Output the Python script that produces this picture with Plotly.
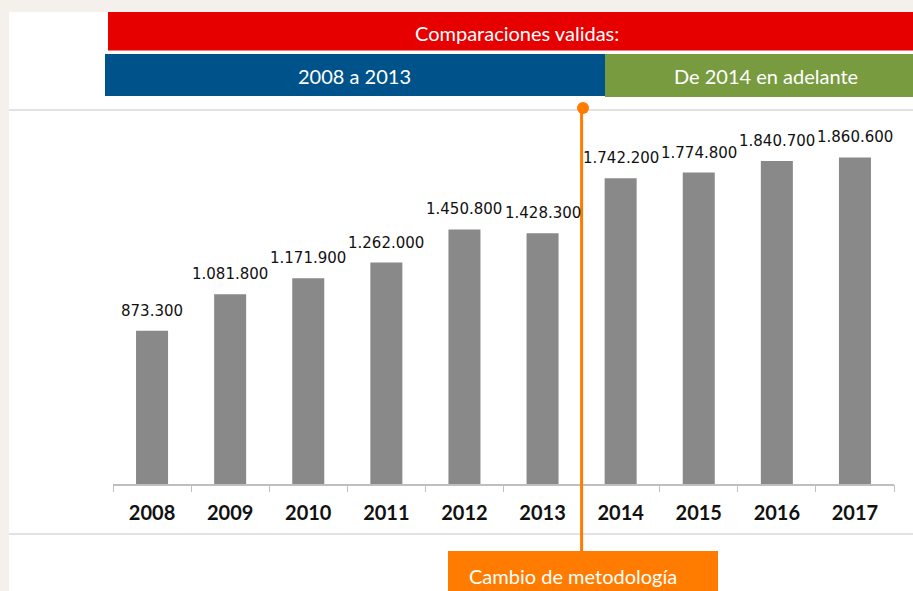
import plotly.graph_objects as go

# ---- data ----
years = ["2008", "2009", "2010", "2011", "2012", "2013", "2014", "2015", "2016", "2017"]
values = [873300, 1081800, 1171900, 1262000, 1450800, 1428300, 1742200, 1774800, 1840700, 1860600]
value_labels = ["873.300", "1.081.800", "1.171.900", "1.262.000", "1.450.800",
                "1.428.300", "1.742.200", "1.774.800", "1.840.700", "1.860.600"]
header_title = "Comparaciones validas:"
period_left = "2008 a 2013"
period_right = "De 2014 en adelante"
change_label = "Cambio de metodología"
change_position = 5.5  # boundary between 2013 and 2014 (category index)

# ---- layout geometry (pixels) ----
W, H = 913, 591
L, R, T, B = 113, 894, 110, 484
YMAX = 2131000


def px(x):
    return (x - L) / (R - L)


def py(y):
    return (B - y) / (B - T)


idx = list(range(len(years)))

fig = go.Figure()
fig.add_trace(go.Bar(
    x=idx, y=values, marker=dict(color="#898989", line=dict(width=0)),
    hoverinfo="skip", showlegend=False,
))

annotations = []
for i, v, lab in zip(idx, values, value_labels):
    annotations.append(dict(
        x=i, y=v, xref="x", yref="y", text=lab, showarrow=False,
        yanchor="middle", yshift=20,
        font=dict(family="DejaVu Sans", size=15, color="#111111"),
    ))

TXT = dict(family="Lato", size=20, color="white")
annotations += [
    dict(x=px(517), y=py(33), xref="paper", yref="paper", text=header_title,
         showarrow=False, font=TXT, xanchor="center", yanchor="middle"),
    dict(x=px(354), y=py(76), xref="paper", yref="paper", text=period_left,
         showarrow=False, font=TXT, xanchor="center", yanchor="middle"),
    dict(x=px(766), y=py(76), xref="paper", yref="paper", text=period_right,
         showarrow=False, font=TXT, xanchor="center", yanchor="middle"),
    dict(x=px(573), y=py(576), xref="paper", yref="paper", text=change_label,
         showarrow=False, font=TXT, xanchor="center", yanchor="middle"),
]

shapes = [
    # white card
    dict(type="rect", xref="paper", yref="paper", x0=px(9), x1=px(W + 5), y0=py(12), y1=py(H + 5),
         fillcolor="white", line=dict(width=0), layer="below"),
    # separators
    dict(type="line", xref="paper", yref="paper", x0=px(9), x1=px(W), y0=py(110), y1=py(110),
         line=dict(color="#d9d9d9", width=1.5)),
    dict(type="line", xref="paper", yref="paper", x0=px(9), x1=px(W), y0=py(534), y1=py(534),
         line=dict(color="#d9d9d9", width=1.5)),
    # header boxes
    dict(type="rect", xref="paper", yref="paper", x0=px(108), x1=px(W + 5), y0=py(50.5), y1=py(12),
         fillcolor="#e60000", line=dict(width=0)),
    dict(type="rect", xref="paper", yref="paper", x0=px(105), x1=px(605), y0=py(96), y1=py(54),
         fillcolor="#00538a", line=dict(width=0)),
    dict(type="rect", xref="paper", yref="paper", x0=px(605), x1=px(W + 5), y0=py(97), y1=py(54),
         fillcolor="#789b3f", line=dict(width=0)),
    # method change marker
    dict(type="line", xref="x", yref="paper", x0=change_position, x1=change_position,
         y0=py(108), y1=py(553), line=dict(color="#ff7c00", width=3)),
    dict(type="circle", xref="paper", yref="paper", x0=px(577), x1=px(589), y0=py(102), y1=py(114),
         fillcolor="#ff7c00", line=dict(width=0)),
    dict(type="rect", xref="paper", yref="paper", x0=px(448), x1=px(718), y0=py(551), y1=py(H + 5),
         fillcolor="#ff7c00", line=dict(width=0)),
]

fig.update_layout(
    width=W, height=H,
    margin=dict(l=L, r=W - R, t=T, b=H - B, pad=0),
    paper_bgcolor="#f4f1ec",
    plot_bgcolor="rgba(0,0,0,0)",
    bargap=0.59,
    showlegend=False,
    annotations=annotations,
    shapes=shapes,
    xaxis=dict(
        range=[-0.5, len(years) - 0.5], autorange=False,
        tickmode="array", tickvals=idx, ticktext=years,
        showgrid=False, showline=True, linecolor="#bfbfbf", linewidth=1.5,
        ticks="", zeroline=False, fixedrange=True,
        tickfont=dict(family="Lato", size=20, color="#111111", weight="bold"),
        ticklabelstandoff=10,
    ),
    xaxis2=dict(
        overlaying="x", range=[-0.5, len(years) - 0.5], autorange=False,
        tickmode="array", tickvals=[i - 0.5 for i in range(len(years) + 1)],
        showticklabels=False, ticks="outside", ticklen=7, tickcolor="#bfbfbf", tickwidth=1,
        showgrid=False, zeroline=False, showline=False, fixedrange=True, side="bottom",
    ),
    yaxis=dict(range=[0, YMAX], visible=False, showgrid=False, zeroline=False, fixedrange=True),
)
# invisible trace to activate the boundary-tick axis
fig.add_trace(go.Scatter(x=[None], y=[None], xaxis="x2", showlegend=False, hoverinfo="skip"))

fig.write_html(
    "out.html",
    config={"displayModeBar": False},
    post_script="document.body.style.margin='0';document.body.style.background='#f4f1ec';",
)
